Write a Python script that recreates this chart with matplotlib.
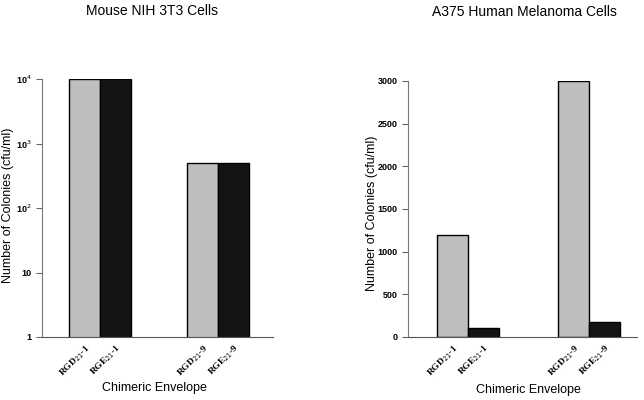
import matplotlib
matplotlib.use("Agg")
import matplotlib.pyplot as plt
from matplotlib.ticker import FixedLocator, FixedFormatter, NullLocator

plt.rcParams['font.family'] = ['Liberation Sans', 'DejaVu Sans']

envelopes = ["RGD$_{21}$-1", "RGE$_{21}$-1", "RGD$_{21}$-9", "RGE$_{21}$-9"]
groups = [0, 1]
nih_rgd = [10000, 500]
nih_rge = [10000, 500]
a375_rgd = [1200, 3000]
a375_rge = [100, 180]

gray = "#bebebe"
black = "#141414"

fig = plt.figure(figsize=(6.44, 4.0), dpi=100)
ax1 = fig.add_axes([0.0652, 0.1575, 0.3587, 0.645])
ax2 = fig.add_axes([0.6335, 0.1575, 0.3555, 0.6400])


def draw(ax, rgd, rge, w):
    xs_d = [g - w / 2 for g in groups]
    xs_e = [g + w / 2 for g in groups]
    ax.bar(xs_d, rgd, width=w, color=gray, edgecolor="black", linewidth=1.0)
    ax.bar(xs_e, rge, width=w, color=black, edgecolor="black", linewidth=1.0)
    ax.set_xticks(xs_d + xs_e)
    ax.set_xticklabels([envelopes[0], envelopes[2], envelopes[1], envelopes[3]],
                       rotation=45, ha="right", rotation_mode="anchor",
                       family="Liberation Serif", fontweight="bold", fontsize=6.8)
    ax.tick_params(axis="x", length=0, pad=4)
    ax.tick_params(axis="y", direction="out", length=4, width=0.8, labelsize=6.5,
                   color="#666666")
    for lab in ax.get_yticklabels():
        lab.set_fontweight("bold")
    ax.spines["top"].set_visible(False)
    ax.spines["right"].set_visible(False)
    ax.spines["left"].set_color("#777777")
    ax.spines["bottom"].set_color("#555555")


# Mouse NIH 3T3, log scale
draw(ax1, nih_rgd, nih_rge, 0.263)
ax1.set_yscale("log")
ax1.set_ylim(1, 10000)
ax1.set_xlim(-0.4915, 1.466)
ax1.yaxis.set_major_locator(FixedLocator([1, 10, 100, 1000, 10000]))
ax1.yaxis.set_major_formatter(FixedFormatter(["1", "10", "10$^2$", "10$^3$", "10$^4$"]))
ax1.yaxis.set_minor_locator(NullLocator())
for lab in ax1.get_yticklabels():
    lab.set_fontweight("bold")
fig.text(152 / 644, 1 - 11 / 400, "Mouse NIH 3T3 Cells", ha="center", va="center", fontsize=10)
fig.text(154 / 644, 1 - 388 / 400, "Chimeric Envelope", ha="center", va="center", fontsize=9)
fig.text(8 / 644, 1 - 205 / 400, "Number of Colonies (cfu/ml)", ha="center", va="center",
         rotation=90, fontsize=9)

# A375 human melanoma, linear scale
draw(ax2, a375_rgd, a375_rge, 0.256)
ax2.set_ylim(0, 3000)
ax2.set_xlim(-0.496, 1.397)
ax2.set_yticks([0, 500, 1000, 1500, 2000, 2500, 3000])
for lab in ax2.get_yticklabels():
    lab.set_fontweight("bold")
fig.text(524 / 644, 1 - 12 / 400, "A375 Human Melanoma Cells", ha="center", va="center", fontsize=10)
fig.text(528 / 644, 1 - 390 / 400, "Chimeric Envelope", ha="center", va="center", fontsize=9)
fig.text(372 / 644, 1 - 213 / 400, "Number of Colonies (cfu/ml)", ha="center", va="center",
         rotation=90, fontsize=9)

fig.savefig("out.png", dpi=100)
